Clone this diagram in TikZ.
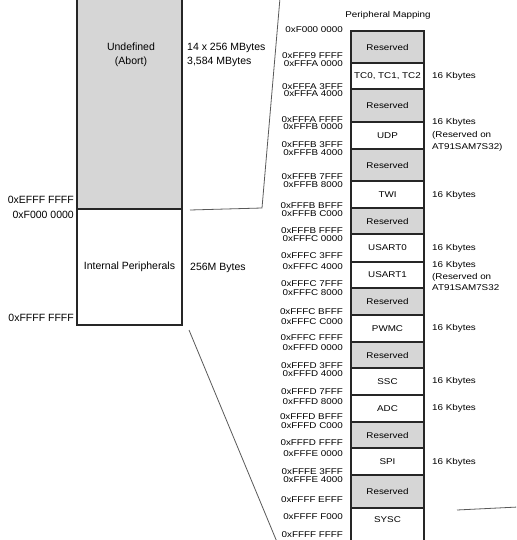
\documentclass[tikz,border=0pt]{standalone}
\usepackage{fontspec}
\setmainfont{Liberation Sans}
\newfontfamily\widefont[FakeStretch=1.17]{Liberation Sans}
\begin{document}
\begin{tikzpicture}[x=1pt,y=-1pt,
  font=\widefont\fontsize{8.4}{10}\selectfont,
  rowbox/.style={draw=black!85, line width=1.8pt, minimum width=73pt, inner sep=0pt, outer sep=0pt},
  resv/.style={rowbox, fill=black!16},
  addr/.style={anchor=east, inner sep=0pt},
  sizel/.style={anchor=west, inner sep=0pt, align=left},
  bigtext/.style={font=\rmfamily\fontsize{10.5}{14}\selectfont},
  leftbox/.style={draw=black!85, line width=1.8pt, minimum width=105pt, inner sep=0pt, outer sep=0pt},
  zoomline/.style={draw=black!65, line width=0.8pt}]
\useasboundingbox (0,0) rectangle (516,540);
\begin{scope}
\clip (0,0) rectangle (516,540);

% ---- left memory block ----
\node[leftbox, fill=black!16, minimum height=224pt] (undef) at (129.5,97) {};
\node[bigtext, align=center, inner sep=0pt] (undeft) at (131,55) {Undefined\\(Abort)};
\node[leftbox, bigtext, minimum height=116pt] (intp) at (129.5,267) {Internal Peripherals};

\node[bigtext, anchor=west, align=left, inner sep=0pt] (sz1) at (187,55) {14 x 256 MBytes\\3,584 MBytes};
\node[bigtext, anchor=west, inner sep=0pt] (sz2) at (190,268) {256M Bytes};

\node[bigtext, addr] (la1) at (74,200) {0xEFFF FFFF};
\node[bigtext, addr] (la2) at (74,215) {0xF000 0000};
\node[bigtext, addr] (la3) at (74,318) {0xFFFF FFFF};

% ---- zoom lines ----
\coordinate (c1) at (190,210);
\coordinate (c2) at (262,208);
\coordinate (c3) at (280,-2);
\coordinate (c4) at (189,330);
\coordinate (c5) at (277,542);
\coordinate (c6) at (457,510);
\coordinate (c7) at (518,507);
\draw[zoomline] (c1) -- (c2) -- (c3);
\draw[zoomline] (c4) -- (c5);
\draw[zoomline] (c6) -- (c7);

% ---- peripheral mapping ----
\node (title) at (388,15) {Peripheral Mapping};

\node[resv, minimum height=32pt] (r1) at (387.5,47) {Reserved};
\node[rowbox, minimum height=26pt] (tc) at (387.5,76) {TC0, TC1, TC2};
\node[resv, minimum height=33pt] (r2) at (387.5,105.5) {Reserved};
\node[rowbox, minimum height=27pt] (udp) at (387.5,135.5) {UDP};
\node[resv, minimum height=32pt] (r3) at (387.5,165) {Reserved};
\node[rowbox, minimum height=27pt] (twi) at (387.5,194.5) {TWI};
\node[resv, minimum height=26pt] (r4) at (387.5,221) {Reserved};
\node[rowbox, minimum height=28pt] (us0) at (387.5,248) {USART0};
\node[rowbox, minimum height=26pt] (us1) at (387.5,275) {USART1};
\node[resv, minimum height=27pt] (r5) at (387.5,301.5) {Reserved};
\node[rowbox, minimum height=27pt] (pwmc) at (387.5,328.5) {PWMC};
\node[resv, minimum height=26pt] (r6) at (387.5,355) {Reserved};
\node[rowbox, minimum height=27pt] (ssc) at (387.5,381.5) {SSC};
\node[rowbox, minimum height=27pt] (adc) at (387.5,408.5) {ADC};
\node[resv, minimum height=26pt] (r7) at (387.5,435) {Reserved};
\node[rowbox, minimum height=27pt] (spi) at (387.5,461.5) {SPI};
\node[resv, minimum height=33pt] (r8) at (387.5,491.5) {Reserved};
\node[rowbox, minimum height=40pt] (sysc) at (387.5,528) {};
\node (sysct) at (387.5,520) {SYSC};
\draw[draw=black!85, line width=2.4pt] (r1.north west) rectangle (sysc.south east);

% ---- addresses ----
\node[addr] (a1) at (343,30) {0xF000 0000};
\node[addr] (a2) at (343,56) {0xFFF9 FFFF};
\node[addr] (a3) at (343,63.5) {0xFFFA 0000};
\node[addr] (a4) at (343,87) {0xFFFA 3FFF};
\node[addr] (a5) at (343,94) {0xFFFA 4000};
\node[addr] (a6) at (343,120) {0xFFFA FFFF};
\node[addr] (a7) at (343,127) {0xFFFB 0000};
\node[addr] (a8) at (343,145) {0xFFFB 3FFF};
\node[addr] (a9) at (343,153) {0xFFFB 4000};
\node[addr] (a10) at (343,177) {0xFFFB 7FFF};
\node[addr] (a11) at (343,185) {0xFFFB 8000};
\node[addr] (a12) at (343,206) {0xFFFB BFFF};
\node[addr] (a13) at (343,214) {0xFFFB C000};
\node[addr] (a14) at (343,231) {0xFFFB FFFF};
\node[addr] (a15) at (343,239) {0xFFFC 0000};
\node[addr] (a16) at (343,256) {0xFFFC 3FFF};
\node[addr] (a17) at (343,267) {0xFFFC 4000};
\node[addr] (a18) at (343,284) {0xFFFC 7FFF};
\node[addr] (a19) at (343,293) {0xFFFC 8000};
\node[addr] (a20) at (343,312) {0xFFFC BFFF};
\node[addr] (a21) at (343,322) {0xFFFC C000};
\node[addr] (a22) at (343,338) {0xFFFC FFFF};
\node[addr] (a23) at (343,348) {0xFFFD 0000};
\node[addr] (a24) at (343,366) {0xFFFD 3FFF};
\node[addr] (a25) at (343,374) {0xFFFD 4000};
\node[addr] (a26) at (343,392) {0xFFFD 7FFF};
\node[addr] (a27) at (343,402) {0xFFFD 8000};
\node[addr] (a28) at (343,417) {0xFFFD BFFF};
\node[addr] (a29) at (343,426) {0xFFFD C000};
\node[addr] (a30) at (343,443) {0xFFFD FFFF};
\node[addr] (a31) at (343,454) {0xFFFE 0000};
\node[addr] (a32) at (343,472) {0xFFFE 3FFF};
\node[addr] (a33) at (343,480) {0xFFFE 4000};
\node[addr] (a34) at (343,500) {0xFFFF EFFF};
\node[addr] (a35) at (343,517) {0xFFFF F000};
\node[addr] (a36) at (343,535) {0xFFFF FFFF};

% ---- sizes ----
\node[sizel] (s1) at (432,76) {16 Kbytes};
\node[sizel, font=\widefont\fontsize{8.4}{12.5}\selectfont] (s2) at (432,135) {16 Kbytes\\(Reserved on\\AT91SAM7S32)};
\node[sizel] (s3) at (432,195) {16 Kbytes};
\node[sizel] (s4) at (432,248) {16 Kbytes};
\node[sizel, font=\widefont\fontsize{8.4}{11.8}\selectfont] (s5) at (432,276) {16 Kbytes\\(Reserved on\\AT91SAM7S32};
\node[sizel] (s6) at (432,328) {16 Kbytes};
\node[sizel] (s7) at (432,381) {16 Kbytes};
\node[sizel] (s8) at (432,408) {16 Kbytes};
\node[sizel] (s9) at (432,462) {16 Kbytes};
\end{scope}
\end{tikzpicture}
\end{document}
